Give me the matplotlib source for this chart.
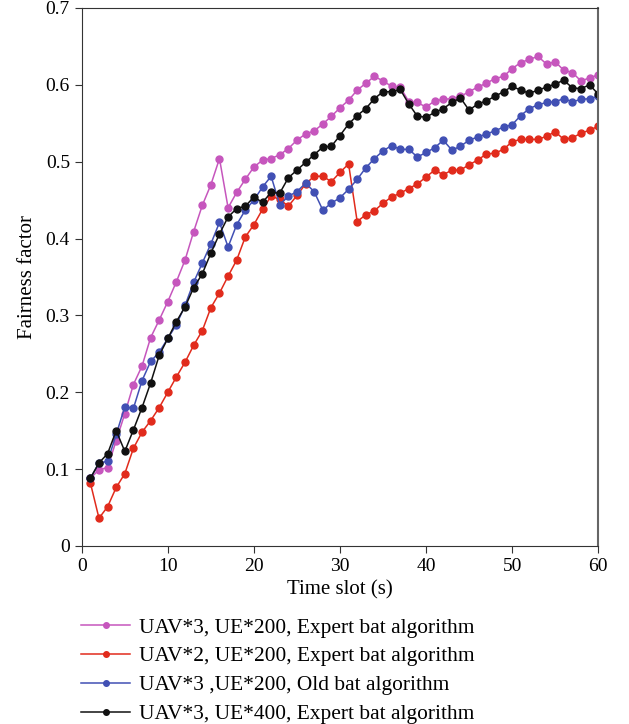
import matplotlib
matplotlib.use('Agg')
import matplotlib.pyplot as plt
import numpy as np

plt.rcParams['font.family'] = ['Liberation Serif', 'DejaVu Serif']

time_slots = np.arange(1, 61)

uav3_ue200_expert = [
    0.088, 0.099, 0.102, 0.137, 0.172, 0.210, 0.234, 0.271, 0.294, 0.318,
    0.344, 0.372, 0.409, 0.443, 0.470, 0.504, 0.440, 0.460, 0.477, 0.493,
    0.502, 0.504, 0.509, 0.517, 0.528, 0.536, 0.540, 0.549, 0.559, 0.570,
    0.580, 0.593, 0.602, 0.611, 0.605, 0.598, 0.597, 0.578, 0.577, 0.571,
    0.579, 0.581, 0.582, 0.585, 0.591, 0.597, 0.602, 0.608, 0.611, 0.621,
    0.629, 0.633, 0.637, 0.627, 0.630, 0.619, 0.616, 0.605, 0.609, 0.613,
]
uav2_ue200_expert = [
    0.082, 0.036, 0.051, 0.076, 0.094, 0.127, 0.148, 0.163, 0.180, 0.200,
    0.220, 0.239, 0.261, 0.280, 0.310, 0.329, 0.351, 0.372, 0.402, 0.418,
    0.438, 0.455, 0.451, 0.442, 0.456, 0.471, 0.481, 0.481, 0.474, 0.486,
    0.497, 0.422, 0.431, 0.436, 0.446, 0.454, 0.459, 0.465, 0.471, 0.480,
    0.489, 0.483, 0.489, 0.489, 0.496, 0.502, 0.510, 0.511, 0.516, 0.526,
    0.529, 0.529, 0.529, 0.533, 0.539, 0.529, 0.531, 0.537, 0.541, 0.546,
]
uav3_ue200_old = [
    0.088, 0.108, 0.110, 0.145, 0.181, 0.179, 0.215, 0.240, 0.252, 0.270,
    0.288, 0.313, 0.343, 0.368, 0.393, 0.421, 0.389, 0.418, 0.437, 0.450,
    0.467, 0.481, 0.444, 0.455, 0.461, 0.472, 0.461, 0.437, 0.446, 0.453,
    0.464, 0.477, 0.492, 0.504, 0.514, 0.521, 0.516, 0.516, 0.506, 0.512,
    0.518, 0.528, 0.515, 0.520, 0.528, 0.532, 0.536, 0.540, 0.545, 0.548,
    0.560, 0.569, 0.574, 0.577, 0.578, 0.582, 0.578, 0.581, 0.582, 0.585,
]
uav3_ue400_expert = [
    0.088, 0.108, 0.120, 0.150, 0.123, 0.151, 0.180, 0.212, 0.248, 0.270,
    0.292, 0.311, 0.336, 0.354, 0.381, 0.406, 0.428, 0.439, 0.442, 0.454,
    0.447, 0.460, 0.459, 0.479, 0.489, 0.499, 0.509, 0.519, 0.520, 0.534,
    0.549, 0.560, 0.569, 0.582, 0.591, 0.591, 0.594, 0.575, 0.559, 0.558,
    0.564, 0.569, 0.577, 0.583, 0.567, 0.575, 0.579, 0.585, 0.591, 0.598,
    0.593, 0.589, 0.593, 0.597, 0.601, 0.606, 0.596, 0.595, 0.600, 0.588,
]

series = [
    (uav3_ue200_expert, 'UAV*3, UE*200, Expert bat algorithm', '#c656bd'),
    (uav2_ue200_expert, 'UAV*2, UE*200, Expert bat algorithm', '#e12b1c'),
    (uav3_ue200_old, 'UAV*3 ,UE*200, Old bat algorithm', '#4150b4'),
    (uav3_ue400_expert, 'UAV*3, UE*400, Expert bat algorithm', '#111111'),
]

fig = plt.figure(figsize=(6.29, 7.24), dpi=100)
ax = fig.add_axes([0.130, 0.246, 0.821, 0.743])

for vals, label, color in series:
    ax.plot(time_slots, vals, color=color, marker='o', markersize=5,
            linewidth=1.1, label=label)

ax.set_xlim(0, 60)
ax.set_ylim(0, 0.7)
ax.set_xticks(np.arange(0, 61, 10))
ax.set_yticks(np.arange(0, 0.71, 0.1))
ax.set_yticklabels(['0', '0.1', '0.2', '0.3', '0.4', '0.5', '0.6', '0.7'])
ax.tick_params(direction='out', length=5, labelsize=14, color='#333333')
for s in ax.spines.values():
    s.set_color('#333333')
ax.spines['right'].set_color('#666666')
ax.spines['right'].set_linewidth(1.5)
ax.set_xlabel('Time slot (s)', fontsize=15, labelpad=4)
ax.set_ylabel('Fairness factor', fontsize=15, labelpad=6)

ax.legend(loc='upper left', bbox_to_anchor=(0.129, 0.147), bbox_transform=fig.transFigure,
          frameon=False, fontsize=15.4, handlelength=2.3, handletextpad=0.4,
          labelspacing=0.42, borderaxespad=0, borderpad=0, markerscale=0.8)

fig.savefig('out.png', dpi=100)
